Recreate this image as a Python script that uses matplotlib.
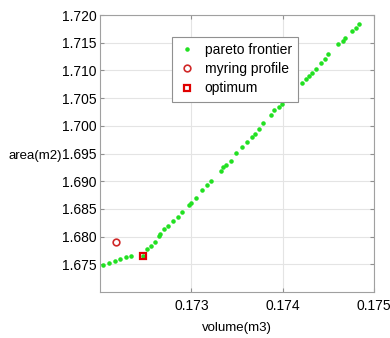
import numpy as np
import matplotlib.pyplot as plt

plt.rcParams['font.family'] = ['Liberation Sans', 'DejaVu Sans']

# pareto frontier: volume (m3) vs area (m2)
volume = [0.17203, 0.17210, 0.17216, 0.17222, 0.17228, 0.17234, 0.17247,
          0.17252, 0.17256, 0.17260, 0.17265, 0.17266, 0.17270, 0.17274,
          0.17280, 0.17285, 0.17290, 0.17297, 0.17300, 0.17305, 0.17312,
          0.17317, 0.17322, 0.17332, 0.17335, 0.17338, 0.17343, 0.17349,
          0.17356, 0.17361, 0.17366, 0.17370, 0.17374, 0.17379, 0.17387,
          0.17391, 0.17396, 0.17399, 0.17402, 0.17421, 0.17425, 0.17429,
          0.17432, 0.17436, 0.17442, 0.17446, 0.17450, 0.17461, 0.17466,
          0.17468, 0.17476, 0.17480, 0.17484]
area = [1.67491, 1.67531, 1.67563, 1.67590, 1.67627, 1.67654, 1.67659,
        1.67771, 1.67825, 1.67898, 1.68006, 1.68051, 1.68133, 1.68187,
        1.68283, 1.68358, 1.68449, 1.68566, 1.68611, 1.68702, 1.68837,
        1.68928, 1.69000, 1.69186, 1.69259, 1.69289, 1.69371, 1.69512,
        1.69620, 1.69710, 1.69790, 1.69844, 1.69934, 1.70043, 1.70193,
        1.70283, 1.70343, 1.70392, 1.70477, 1.70771, 1.70838, 1.70898,
        1.70957, 1.71033, 1.71133, 1.71205, 1.71295, 1.71471, 1.71539,
        1.71585, 1.71717, 1.71774, 1.71838]

myring_volume, myring_area = 0.17218, 1.67903
opt_volume, opt_area = 0.17247, 1.67659

xticks = [0.173, 0.174, 0.175]
yticks = [1.675, 1.680, 1.685, 1.690, 1.695, 1.700, 1.705, 1.710, 1.715, 1.720]

fig = plt.figure(figsize=(3.9, 3.38), dpi=100)
ax = fig.add_axes([0.2564, 0.136, 0.7026, 0.8196])

ax.plot(volume, area, '.', color='#22e022', markersize=4.5, label='pareto frontier', zorder=3)
ax.plot(myring_volume, myring_area, 'o', mfc='none', mec='#d02828', mew=1.2,
        markersize=4.8, label='myring profile', zorder=4)
ax.plot(opt_volume, opt_area, 's', mfc='none', mec='#e00000', mew=1.6,
        markersize=5, label='optimum', zorder=4)

ax.set_xlim(0.172, 0.175)
ax.set_ylim(1.670, 1.720)
ax.set_xticks(xticks)
ax.set_xticklabels(['%.3f' % v for v in xticks])
ax.set_yticks(yticks)
ax.set_yticklabels(['%.3f' % v for v in yticks])
ax.tick_params(direction='in', length=3, labelsize=10, color='#909090',
               top=True, right=True)
ax.tick_params(axis='y', pad=2.5)
ax.tick_params(axis='x', pad=5)
ax.grid(True, color='#e4e4e4', linewidth=0.8)
ax.set_axisbelow(True)
for s in ax.spines.values():
    s.set_color('#a0a0a0')
    s.set_linewidth(0.8)

ax.set_xlabel('volume(m3)', fontsize=9.5)
ax.xaxis.set_label_coords(0.5, -0.108)
ax.set_ylabel('area(m2)', fontsize=9.5, rotation=0, ha='right', va='center')
ax.yaxis.set_label_coords(-0.139, 0.49)

leg = ax.legend(loc='upper left', bbox_to_anchor=(0.263, 0.921), borderaxespad=0,
                fontsize=10, fancybox=False, framealpha=1, edgecolor='#909090',
                handlelength=1.3, handletextpad=0.6, borderpad=0.45, labelspacing=0.37)
leg.get_frame().set_linewidth(0.8)

fig.savefig('out.png', dpi=100)
